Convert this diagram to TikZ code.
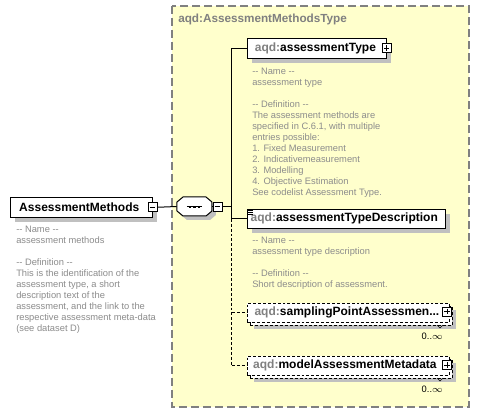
\documentclass[tikz,border=0pt]{standalone}
\usepackage{fontspec}
\setmainfont{Liberation Sans}
\usetikzlibrary{shadows}
\definecolor{bgyellow}{HTML}{FFFFCC}
\definecolor{framegray}{HTML}{808080}
\definecolor{anngray}{HTML}{8C8C8C}
\definecolor{shgray}{HTML}{C0C0C0}
\newcommand{\dd}{-{}-}
\begin{document}
\begin{tikzpicture}[x=0.75pt,y=-0.75pt,
  elem/.style={draw=black, fill=white, inner sep=0pt, anchor=north west,
    font=\fontsize{9}{11}\selectfont\bfseries,
    drop shadow={opacity=1, fill=shgray, shadow xshift=3.75pt, shadow yshift=-3.5pt}},
  optfront/.style={draw=black, fill=white, inner sep=0pt, anchor=north west,
    font=\fontsize{9}{11}\selectfont\bfseries, dash pattern=on 2.2pt off 1.5pt},
  optback/.style={optfront, drop shadow={opacity=1, fill=shgray, shadow xshift=3pt, shadow yshift=-3pt}},
  ann/.style={anchor=north west, inner sep=0pt, align=left, text=anngray,
    font=\fontsize{7}{8.25}\selectfont},
  plusbox/.style={draw=black, solid, fill=white, minimum size=6.75pt, inner sep=0pt,
    path picture={\draw[solid] ([xshift=1.3pt]path picture bounding box.west) -- ([xshift=-1.3pt]path picture bounding box.east);
      \draw[solid] ([yshift=-1.3pt]path picture bounding box.north) -- ([yshift=1.3pt]path picture bounding box.south);}},
  minusbox/.style={draw=black, solid, fill=white, minimum size=6.75pt, inner sep=0pt,
    path picture={\draw[solid] ([xshift=1.3pt]path picture bounding box.west) -- ([xshift=-1.3pt]path picture bounding box.east);}},
  card/.style={anchor=north east, inner sep=0pt, font=\fontsize{7}{8}\selectfont},
  conn/.style={draw=black, line width=0.75pt},
  dconn/.style={conn, dash pattern=on 2.2pt off 1.5pt}
]
\useasboundingbox (0,0) rectangle (480,414);
\fill[white] (0,0) rectangle (480,414);
% complex type frame
\draw[framegray, fill=bgyellow, line width=0.9pt, dash pattern=on 6pt off 3pt] (172,6) rectangle (469,407);
\node[anchor=west, inner sep=0pt, text=framegray, font=\fontsize{8.8}{10}\selectfont\bfseries] (title) at (178,19) {aqd:AssessmentMethodsType};

% root element
\node[elem, minimum width=106.5pt, minimum height=15pt] (root) at (10,197) {\hspace*{-3pt}AssessmentMethods};
\node[minusbox] (rootm) at (root.east) {};
\node[ann] (rootann) at (16,225.5) {\dd{} Name \dd\\assessment methods\\[8.25pt]\dd{} Definition \dd\\This is the identification of the\\assessment type, a short\\description text of the\\assessment, and the link to the\\respective assessment meta-data\\(see dataset D)};

% sequence compositor
\node[inner sep=0pt, minimum width=26.25pt, minimum height=14.25pt] (seq) at (194.5,206.5) {};
\fill[shgray] (183+4,197+4) -- (206+4,197+4) -- (212+4,202+4) -- (212+4,211+4) -- (206+4,216+4) -- (183+4,216+4) -- (177+4,211+4) -- (177+4,202+4) -- cycle;
\draw[black, fill=white, line width=0.75pt] (183,197) -- (206,197) -- (212,202) -- (212,211) -- (206,216) -- (183,216) -- (177,211) -- (177,202) -- cycle;
\draw[line width=0.75pt] (187,207) -- (202,207);
\foreach \xx in {190,194.5,199} \fill (\xx-1.3,207-1.3) rectangle (\xx+1.3,207+1.3);
\node[minusbox] (seqm) at (217.5,206.5) {};
\draw[conn] (rootm.east) -- (seq.west);
\draw[conn] (seq.east) -- (seqm.west);
\coordinate (bus) at (232,206.5);
\draw[conn] (seqm.east) -- (bus);

% children
\node[elem, minimum width=104.25pt, minimum height=15pt] (atype) at (247,38) {\hspace*{-2pt}{\color{framegray}aqd:}assessmentType};
\node[plusbox] (atypep) at (atype.east) {};
\node[ann] (atypeann) at (252,67.5) {\dd{} Name \dd\\assessment type\\[8.25pt]\dd{} Definition \dd\\The assessment methods are\\specified in C.6.1, with multiple\\entries possible:\\1. Fixed Measurement\\2. Indicativemeasurement\\3. Modelling\\4. Objective Estimation\\See codelist Assessment Type.};

\node[elem, minimum width=148.5pt, minimum height=14.25pt] (adesc) at (247,209) {\hspace*{-3pt}{\color{framegray}aqd:}assessmentTypeDescription};
\foreach \yy in {210.8,212.6,214.4} \draw[line width=0.6pt] (248.5,\yy) -- (253.5,\yy);
\node[ann] (adescann) at (252,236.5) {\dd{} Name \dd\\assessment type description\\[8.25pt]\dd{} Definition \dd\\Short description of assessment.};

\node[optback, minimum width=151.5pt, minimum height=14.25pt] (spaback) at (250,306) {};
\node[optfront, minimum width=151.5pt, minimum height=14.25pt] (spa) at (247,303) {\hspace*{-2pt}{\color{framegray}aqd:}samplingPointAssessmen...};
\node[plusbox] (spap) at (447,311.5) {};
\draw[line width=0.5pt] (437,325) -- (440,328) -- (443,325);
\node[card] (spac) at (443,333) {0..$\infty$};

\node[optback, minimum width=151.5pt, minimum height=14.25pt] (mamback) at (250,359) {};
\node[optfront, minimum width=151.5pt, minimum height=14.25pt] (mam) at (247,356) {\hspace*{-5pt}{\color{framegray}aqd:}modelAssessmentMetadata};
\node[plusbox] (mamp) at (447,365) {};
\draw[line width=0.5pt] (437,378) -- (440,381) -- (443,378);
\node[card] (mamc) at (443,386) {0..$\infty$};

% bus
\coordinate (b1) at (atype.west -| bus);
\coordinate (b2) at (adesc.west -| bus);
\coordinate (b3) at (spa.west -| bus);
\coordinate (b4) at (mam.west -| bus);
\draw[conn] (b1) -- (b2);
\draw[dconn] (b2) -- (b4);
\draw[conn] (b1) -- (atype.west);
\draw[conn] (b2) -- (adesc.west);
\draw[dconn] (b3) -- (spa.west);
\draw[dconn] (b4) -- (mam.west);
\end{tikzpicture}
\end{document}
